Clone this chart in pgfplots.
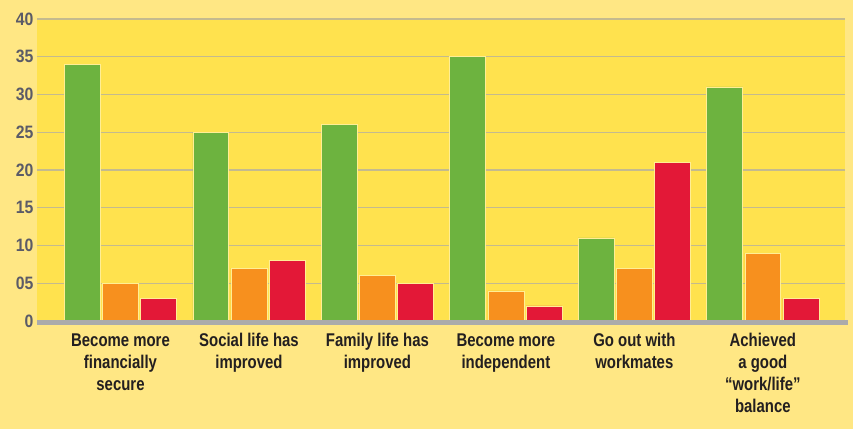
\documentclass[border=0pt]{standalone}
\usepackage{fontspec}
\setmainfont{Liberation Sans}[FakeStretch=0.88]
\newfontfamily\catfont{Liberation Sans}[FakeStretch=0.81]
\usepackage{pgfplots}
\pgfplotsset{compat=1.18}
\definecolor{outerbg}{HTML}{FFE784}
\definecolor{plotbg}{HTML}{FFE24E}
\definecolor{gridc}{HTML}{C4BA8E}
\definecolor{cgreen}{HTML}{6DB33F}
\definecolor{corange}{HTML}{F7901E}
\definecolor{cred}{HTML}{E31837}
\definecolor{ticktxt}{HTML}{5B5B67}
\definecolor{cattxt}{HTML}{231F20}
\definecolor{basec}{HTML}{ABABAB}

\pgfplotstableread{
x a b c
0 34 5 3
1 25 7 8
2 26 6 5
3 35 4 2
4 11 7 21
5 31 9 3
}\datatable

\begin{document}
\begin{tikzpicture}[x=1bp,y=1bp]
\fill[outerbg] (0,0) rectangle (853,429);
\begin{axis}[
  at={(37bp,108bp)}, anchor=south west,
  scale only axis, width=808bp, height=302bp,
  xmin=-0.65, xmax=5.64, ymin=0, ymax=40,
  axis background/.style={fill=plotbg},
  axis line style={draw=none},
  ybar, bar width=0.28,
  ytick={0,5,...,40},
  yticklabels={0,05,10,15,20,25,30,35,40},
  /pgf/number format/assume math mode=true,
  yticklabel style={font=\fontsize{18}{18}\selectfont\bfseries, text=ticktxt},
  ymajorgrids, grid style={draw=gridc, line width=1.4bp},
  major tick length=0pt,
  xtick=data,
  xticklabels={Become more\\financially\\secure, Social life has\\improved, Family life has\\improved, Become more\\independent, Go out with\\workmates, Achieved\\a good\\“work/life”\\balance},
  xticklabel style={font=\catfont\fontsize{18.5}{22}\selectfont\bfseries, text=cattxt, align=center, yshift=-9bp},
  clip=false,
]
\addplot[ybar, fill=cgreen, draw=plotbg!60!white, line width=0.6bp, bar shift=-0.297] table[x=x,y=a] {\datatable};
\addplot[ybar, fill=corange, draw=plotbg!60!white, line width=0.6bp, bar shift=0] table[x=x,y=b] {\datatable};
\addplot[ybar, fill=cred, draw=plotbg!60!white, line width=0.6bp, bar shift=0.297] table[x=x,y=c] {\datatable};
\draw[basec, line width=5bp] ([yshift=-1.5bp]rel axis cs:0,0) -- ([yshift=-1.5bp,xshift=3bp]rel axis cs:1,0);
\end{axis}
\pgfresetboundingbox
\path (0,0) rectangle (853,429);
\end{tikzpicture}
\end{document}
